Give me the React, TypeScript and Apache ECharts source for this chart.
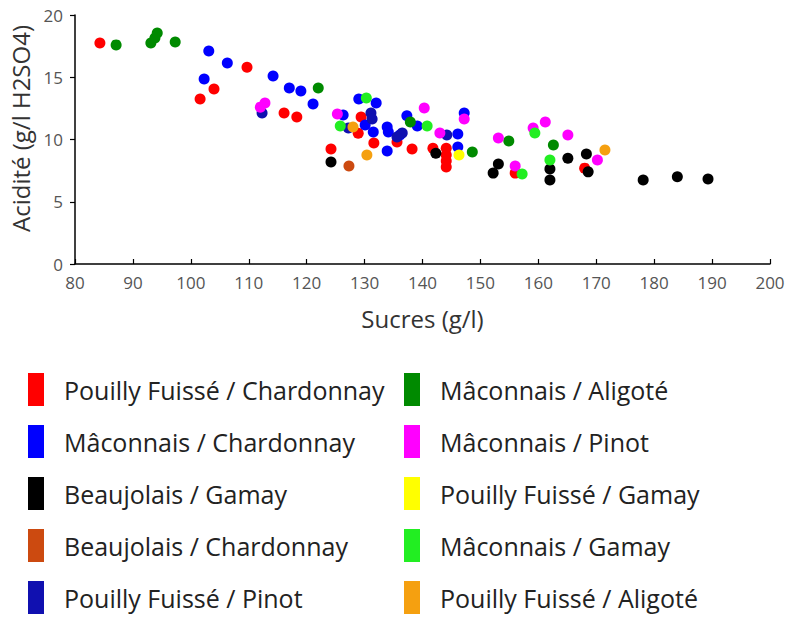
import React, { useEffect, useRef } from "react";
import * as echarts from "echarts";

// Each point: [Sucres (g/l), Acidité (g/l H2SO4)]
const pfChardonnay: number[][] = [
  [84.3, 17.75], [109.7, 15.8], [104.0, 14.06], [101.6, 13.25], [116.1, 12.13],
  [118.3, 11.8], [129.4, 11.8], [128.9, 10.5], [124.2, 9.24], [131.6, 9.72],
  [135.6, 9.8], [138.2, 9.24], [141.8, 9.3], [144.1, 9.3], [144.1, 8.75],
  [144.1, 8.27], [144.1, 7.8], [156.0, 7.3], [168.0, 7.7],
];
const macChardonnay: number[][] = [
  [103.1, 17.1], [106.3, 16.15], [102.3, 14.86], [114.2, 15.1], [117.0, 14.14],
  [119.0, 13.9], [121.1, 12.85], [129.0, 13.25], [132.0, 12.93], [126.3, 11.97],
  [130.1, 11.16], [131.5, 10.6], [133.9, 11.0], [134.1, 10.6], [137.3, 11.9],
  [139.1, 11.08], [133.9, 9.08], [146.1, 10.44], [146.1, 9.4], [147.2, 12.13],
  [136.1, 10.36],
];
const beaujolaisGamay: number[][] = [
  [124.2, 8.2], [142.3, 8.9], [153.1, 8.03], [152.2, 7.3], [165.1, 8.5],
  [168.3, 8.84], [162.0, 7.63], [162.0, 6.75], [168.6, 7.4], [178.1, 6.75],
  [184.0, 7.0], [189.3, 6.83],
];
const beaujolaisChardonnay: number[][] = [[127.3, 7.87]];
const pfPinot: number[][] = [
  [112.3, 12.13], [131.1, 12.13], [131.3, 11.65], [127.2, 10.92], [136.5, 10.52],
  [135.6, 10.2], [144.2, 10.36],
];
const macAligote: number[][] = [
  [87.1, 17.6], [93.1, 17.75], [93.8, 18.15], [94.2, 18.55], [97.3, 17.83],
  [122.0, 14.14], [137.9, 11.4], [148.6, 9.0], [154.9, 9.88], [162.6, 9.56],
];
const macPinot: number[][] = [
  [112.0, 12.6], [112.8, 12.93], [125.3, 12.05], [140.3, 12.53], [147.2, 11.65],
  [143.0, 10.52], [153.1, 10.12], [156.0, 7.87], [159.1, 10.92], [161.2, 11.4],
  [165.1, 10.36], [170.2, 8.35],
];
const pfGamay: number[][] = [[146.3, 8.75]];
const macGamay: number[][] = [
  [130.3, 13.33], [125.8, 11.08], [140.8, 11.08], [157.2, 7.23], [159.4, 10.52],
  [162.0, 8.35],
];
const pfAligote: number[][] = [[128.0, 11.0], [130.4, 8.75], [171.5, 9.16]];

const seriesNames = [
  "Pouilly Fuissé / Chardonnay",
  "Mâconnais / Chardonnay",
  "Beaujolais / Gamay",
  "Beaujolais / Chardonnay",
  "Pouilly Fuissé / Pinot",
  "Mâconnais / Aligoté",
  "Mâconnais / Pinot",
  "Pouilly Fuissé / Gamay",
  "Mâconnais / Gamay",
  "Pouilly Fuissé / Aligoté",
];
const seriesData = [
  pfChardonnay, macChardonnay, beaujolaisGamay, beaujolaisChardonnay, pfPinot,
  macAligote, macPinot, pfGamay, macGamay, pfAligote,
];
const seriesColors = [
  "#ff0000", "#0000ff", "#000000", "#cc4a10", "#1010b0",
  "#008a00", "#ff00ff", "#ffff00", "#22ee22", "#f5a010",
];

const xTicks = { min: 80, max: 200, interval: 10 };
const yTicks = { min: 0, max: 20, interval: 5 };

const FONT = "Open Sans";

export default function App() {
  const ref = useRef<HTMLDivElement>(null);
  useEffect(() => {
    if (!ref.current) return;
    const chart = echarts.init(ref.current, null, { renderer: "svg" });
    const legendCommon = {
      orient: "vertical" as const,
      icon: "rect",
      itemWidth: 16,
      itemHeight: 33,
      itemGap: 19,
      top: 373,
      padding: 0,
      height: 244,
      selectedMode: false,
      textStyle: {
        fontFamily: FONT,
        fontSize: 25,
        color: "#222",
        padding: [0, 0, 0, 15],
      },
    };
    chart.setOption({
      animation: false,
      backgroundColor: "#ffffff",
      grid: { left: 75, right: 18, top: 15, bottom: 353, containLabel: false },
      xAxis: {
        type: "value",
        min: xTicks.min,
        max: xTicks.max,
        interval: xTicks.interval,
        name: "Sucres (g/l)",
        nameLocation: "middle",
        nameGap: 42,
        nameTextStyle: { fontFamily: FONT, fontSize: 24, color: "#333" },
        axisLine: { show: true, onZero: false, lineStyle: { color: "#000", width: 1.5 } },
        axisTick: { show: true, inside: true, length: 5, lineStyle: { color: "#000", width: 1.2 } },
        axisLabel: { fontFamily: FONT, fontSize: 17, color: "#555", margin: 10 },
        splitLine: { show: false },
      },
      yAxis: {
        type: "value",
        min: yTicks.min,
        max: yTicks.max,
        interval: yTicks.interval,
        name: "Acidité (g/l H2SO4)",
        nameLocation: "middle",
        nameGap: 18,
        nameTextStyle: { fontFamily: FONT, fontSize: 24, color: "#333", padding: [0, 0, 0, 22] },
        axisLine: { show: true, lineStyle: { color: "#000", width: 1.5 } },
        axisTick: { show: true, inside: false, length: 5, lineStyle: { color: "#000", width: 1.2 } },
        axisLabel: { fontFamily: FONT, fontSize: 17, color: "#555", margin: 12 },
        splitLine: { show: false },
      },
      legend: [
        { ...legendCommon, left: 28, data: seriesNames.slice(0, 5) },
        { ...legendCommon, left: 404, data: seriesNames.slice(5) },
      ],
      series: seriesNames.map((name, i) => ({
        name,
        type: "scatter",
        data: seriesData[i],
        symbol: "circle",
        symbolSize: 11,
        itemStyle: { color: seriesColors[i], opacity: 1 },
      })),
    });
    return () => chart.dispose();
  }, []);
  return (
    <div
      ref={ref}
      style={{ position: "absolute", left: 0, top: 0, width: 788, height: 617 }}
    />
  );
}
